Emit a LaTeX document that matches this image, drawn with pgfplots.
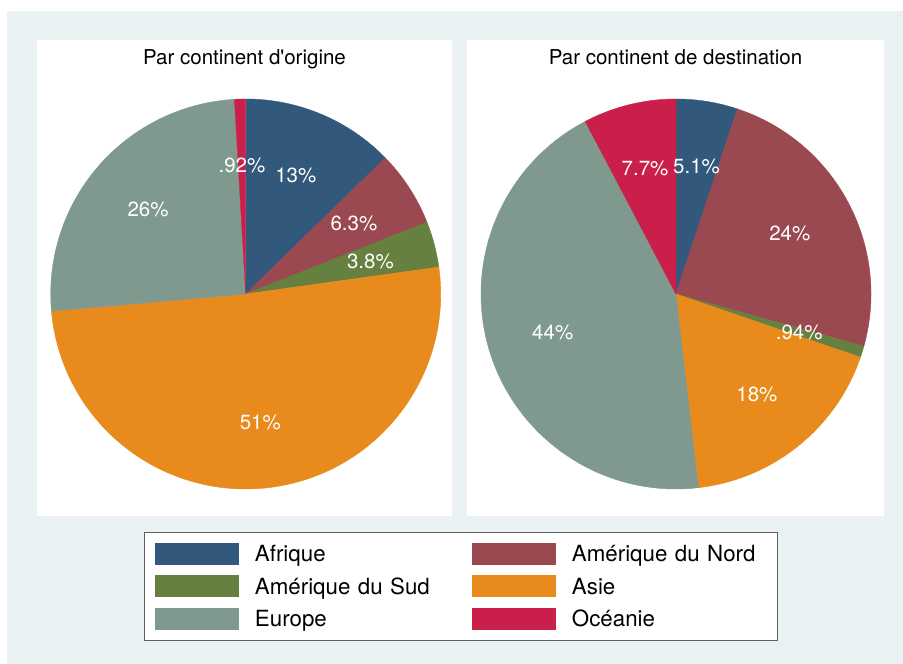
\documentclass[border=0pt]{standalone}
\usepackage{pgfplots}
\usepackage{pgfplotstable}
\pgfplotsset{compat=1.18}
\usepackage{fontspec}
\setmainfont{TeX Gyre Heros}
\definecolor{bgc}{RGB}{233,241,243}
\definecolor{pie1}{RGB}{50,89,124}
\definecolor{pie2}{RGB}{155,73,80}
\definecolor{pie3}{RGB}{102,128,63}
\definecolor{pie4}{RGB}{232,139,28}
\definecolor{pie5}{RGB}{127,153,143}
\definecolor{pie6}{RGB}{201,31,74}
\definecolor{legbd}{RGB}{95,95,95}
\pgfdeclareplotmark{emptymark}{}

\pgfplotstableread{
c val lab
1 12.7 13
2 6.3 6.3
3 3.8 3.8
4 50.8 51
5 25.5 26
6 0.92 .92
}\origine
\pgfplotstableread{
c val lab
1 5.1 5.1
2 24.2 24
3 0.94 .94
4 17.9 18
5 44.1 44
6 7.7 7.7
}\destination
\pgfplotstablecreatecol[create col/expr accum={\pgfmathaccuma+\thisrow{val}}{0}]{cum}\origine
\pgfplotstablecreatecol[create col/expr accum={\pgfmathaccuma+\thisrow{val}}{0}]{cum}\destination
\pgfplotstablegetelem{5}{cum}\of\origine \let\totO\pgfplotsretval
\pgfplotstablegetelem{5}{cum}\of\destination \let\totD\pgfplotsretval

\newcommand\pieslices[2]{%
\addplot[forget plot, scatter, only marks, mark=emptymark,
  visualization depends on={\thisrow{c}\as\pc},
  visualization depends on={90-360*(\thisrow{cum}-\thisrow{val})/#2 \as\sa},
  visualization depends on={90-360*\thisrow{cum}/#2 \as\ea},
  scatter/@pre marker code/.code={\pgfmathtruncatemacro\ci{\pc}\fill[pie\ci] (0pt,0pt) -- (\sa:195pt) arc[start angle=\sa,end angle=\ea,radius=195pt] -- cycle;},
  scatter/@post marker code/.code={}]
  table[x expr=0, y expr=0]{#1};
\addplot[forget plot, scatter, only marks, mark=emptymark,
  point meta=explicit symbolic,
  visualization depends on={90-360*(\thisrow{cum}-\thisrow{val}/2)/#2 \as\ma},
  scatter/@pre marker code/.code={\node[text=white, inner sep=0pt, font=\fontsize{20.5}{24}\selectfont] at (\ma:129pt) {\pgfplotspointmeta\%};},
  scatter/@post marker code/.code={}]
  table[x expr=0, y expr=0, meta=lab]{#1};
}

\pgfplotsset{
  piepanel/.style={
    scale only axis, x=1pt, y=1pt,
    ymin=-222, ymax=254,
    axis background/.style={fill=white},
    axis line style={draw=none},
    ticks=none, clip=false,
    title style={at={(0.5,1)}, anchor=base, yshift=-31pt, font=\fontsize{20.5}{24}\selectfont},
  }
}

\begin{document}
\begin{tikzpicture}
\path[use as bounding box] (0pt,0pt) rectangle (903pt,664pt);
\fill[white] (0pt,0pt) rectangle (903pt,664pt);
\fill[bgc] (7pt,0pt) rectangle (903pt,653pt);

\begin{axis}[piepanel, at={(37pt,148pt)}, anchor=south west,
  xmin=-208.7, xmax=206.3,
  title={Par continent d\textquotesingle origine},
  legend columns=2,
  legend cell align=left,
  legend image code/.code={\path[#1] (0pt,-11pt) rectangle (84pt,11pt);},
  legend style={at={(1.02048,-0.14706)}, anchor=center, draw=legbd, line width=0.9pt,
    fill=white, inner xsep=11pt, inner ysep=7.5pt,
    font=\fontsize{22.3}{26}\selectfont,
    column sep=16pt, row sep=4.5pt,
    nodes={inner sep=0pt, text width=194pt, text height=22pt, text depth=6pt},
    /tikz/every even column/.append style={column sep=23pt}},
]
\pieslices{\origine}{\totO}
\addlegendimage{fill=pie1, draw=none}\addlegendentry{Afrique}
\addlegendimage{fill=pie2, draw=none}\addlegendentry{Amérique du Nord}
\addlegendimage{fill=pie3, draw=none}\addlegendentry{Amérique du Sud}
\addlegendimage{fill=pie4, draw=none}\addlegendentry{Asie}
\addlegendimage{fill=pie5, draw=none}\addlegendentry{Europe}
\addlegendimage{fill=pie6, draw=none}\addlegendentry{Océanie}
\end{axis}

\begin{axis}[piepanel, at={(467pt,148pt)}, anchor=south west,
  xmin=-209, xmax=208,
  title={Par continent de destination},
]
\pieslices{\destination}{\totD}
\end{axis}
\end{tikzpicture}
\end{document}
